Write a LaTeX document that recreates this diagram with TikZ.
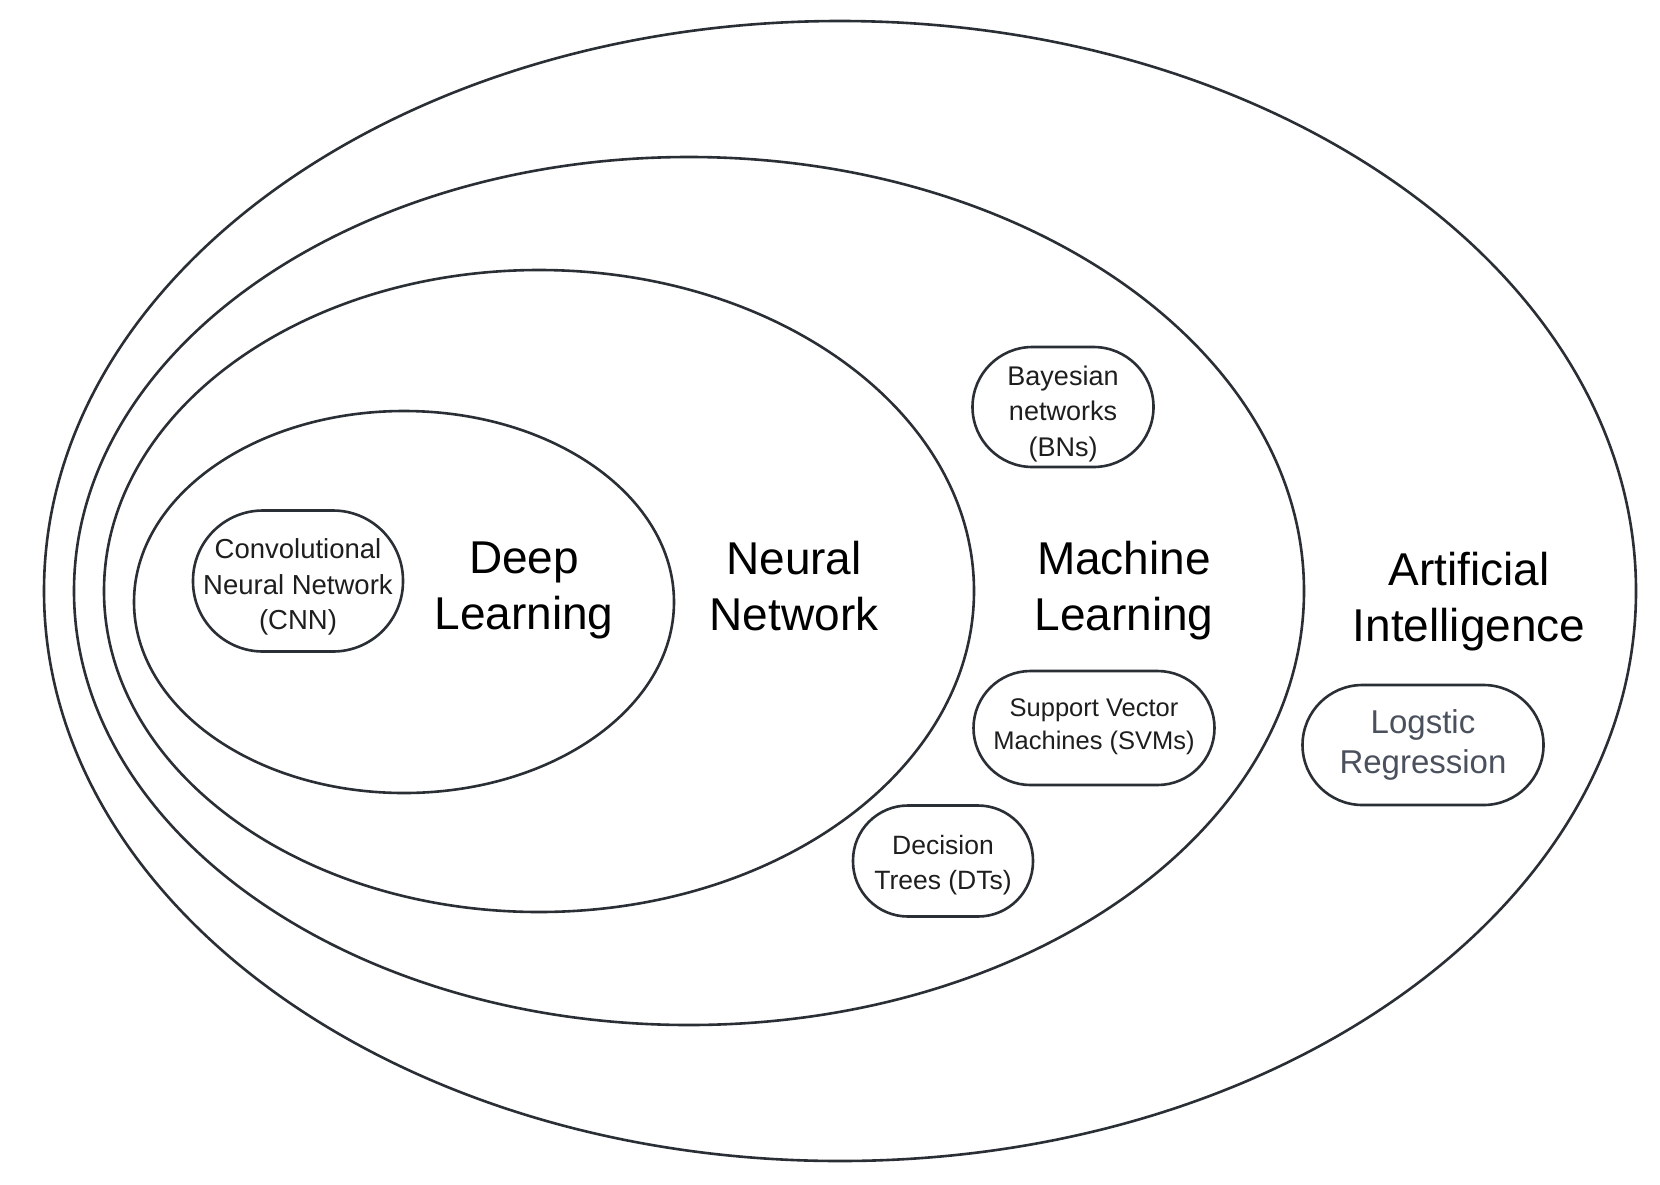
\documentclass[tikz,border=0pt]{standalone}
\usepackage{fontspec}
\setmainfont{Liberation Sans}
\usetikzlibrary{shapes.geometric}
\definecolor{edge}{HTML}{2A2E35}
\definecolor{smalltxt}{HTML}{1E1E1E}
\definecolor{graytxt}{HTML}{4A505C}
\tikzset{
  ring/.style={draw=edge, line width=2.6pt, ellipse, inner sep=0pt},
  bigtxt/.style={align=center, font=\fontsize{46}{56}\selectfont, text=black, inner sep=0pt},
  pill/.style={draw=edge, line width=2.6pt, inner sep=0pt},
  pilltxt/.style={align=center, inner sep=0pt, text=smalltxt},
}
\begin{document}
\begin{tikzpicture}[x=1pt,y=-1pt]
\useasboundingbox[fill=white] (0,0) rectangle (1660,1184);
% nested ellipses
\node[ring, minimum width=1592pt, minimum height=1140pt] (ai) at (840,591) {};
\node[ring, minimum width=1230pt, minimum height=868pt] (ml) at (689,591) {};
\node[ring, minimum width=870pt, minimum height=642pt] (nn) at (539,591) {};
\node[ring, minimum width=540pt, minimum height=382pt] (dl) at (404,602) {};
% big labels
\node[bigtxt] (dlt) at (524,590) {Deep\\Learning};
\node[bigtxt] (nnt) at (794,586) {Neural\\Network};
\node[bigtxt] (mlt) at (1124,591) {Machine\\Learning};
\node[bigtxt] (ait) at (1469,602) {Artificial\\Intelligence};
% small pills
\node[pill, minimum width=210pt, minimum height=141pt, rounded corners=70pt] (cnn) at (298,581) {};
\node[pilltxt, font=\fontsize{27.5}{35.5}\selectfont] (cnnt) at (298,587) {Convolutional\\Neural Network\\(CNN)};
\node[pill, minimum width=181pt, minimum height=120pt, rounded corners=60pt] (bn) at (1063,407) {};
\node[pilltxt, font=\fontsize{27}{35.5}\selectfont] (bnt) at (1063,414) {Bayesian\\networks\\(BNs)};
\node[pill, minimum width=241pt, minimum height=114pt, rounded corners=57pt] (svm) at (1094,728) {};
\node[pilltxt, font=\fontsize{25.5}{33}\selectfont] (svmt) at (1094,727) {Support Vector\\Machines (SVMs)};
\node[pill, minimum width=180pt, minimum height=111pt, rounded corners=55pt] (dt) at (943,861) {};
\node[pilltxt, font=\fontsize{26.5}{35}\selectfont] (dtt) at (943,865) {Decision\\Trees (DTs)};
\node[pill, minimum width=241pt, minimum height=120pt, rounded corners=60pt] (lr) at (1423,745) {};
\node[pilltxt, text=graytxt, font=\fontsize{33}{40}\selectfont] (lrt) at (1423,745) {Logstic\\Regression};
\end{tikzpicture}
\end{document}
